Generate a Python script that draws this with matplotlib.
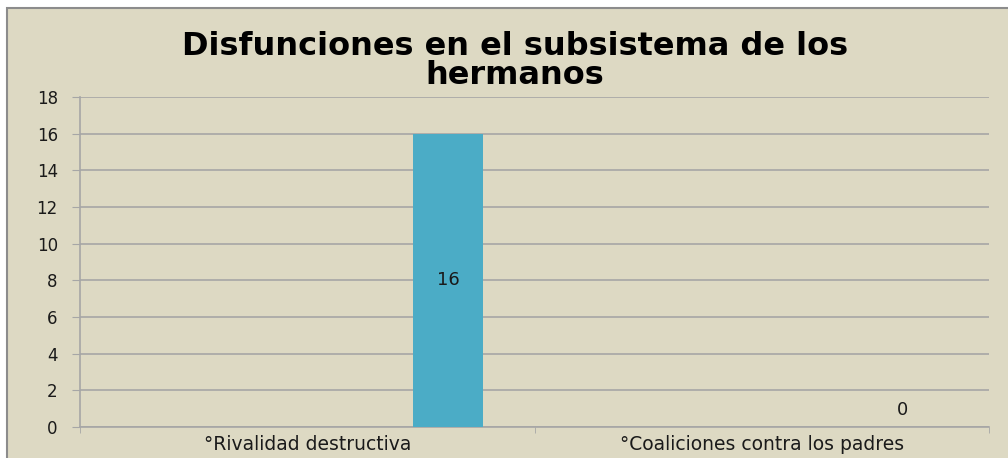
import numpy as np
import matplotlib.pyplot as plt
from matplotlib.patches import Rectangle

# data
categories = ['\u00b0Rivalidad destructiva', '\u00b0Coaliciones contra los padres']
values = [16, 0]
title = 'Disfunciones en el subsistema de los\nhermanos'

bg = '#ddd9c3'
bar_color = '#4bacc6'
grid_color = '#a6a6a6'

W, H = 1008, 458
fig = plt.figure(figsize=(W / 100, H / 100), dpi=100, facecolor='white')

# chart area panel (beige with grey frame on top/left)
back = fig.add_axes([0, 0, 1, 1], zorder=-1)
back.axis('off')
back.set_xlim(0, 1)
back.set_ylim(0, 1)
back.add_patch(Rectangle((7 / W, -0.1), 1.1, 1.1 - 8 / H, facecolor=bg,
                         edgecolor='#8c8c8c', linewidth=1.5))

left, right = 80 / W, 989 / W
bottom, top = 1 - 427 / H, 1 - 97 / H
ax = fig.add_axes([left, bottom, right - left, top - bottom])
ax.set_facecolor(bg)
ax.patch.set_alpha(0)

x = np.arange(len(categories))
offset = 0.31
width = 0.154
bars = ax.bar(x + offset, values, width=width, color=bar_color, zorder=3)

ax.set_xlim(-0.5, len(categories) - 0.5)
ax.set_ylim(0, 18)
ax.set_yticks(np.arange(0, 19, 2))
ax.yaxis.grid(True, color=grid_color, linewidth=1.2)
ax.set_axisbelow(True)

ax.set_xticks(x)
ax.set_xticklabels(categories, fontsize=13.5, color='#1a1a1a')
ax.set_xticks(np.arange(-0.5, len(categories)), minor=True)
ax.tick_params(axis='x', which='major', length=0, pad=6)
ax.tick_params(axis='x', which='minor', length=4, color=grid_color)
ax.tick_params(axis='y', length=6, color=grid_color, labelsize=12,
               labelcolor='#1a1a1a', pad=10)

for s in ['top', 'right']:
    ax.spines[s].set_visible(False)
ax.spines['left'].set_color(grid_color)
ax.spines['bottom'].set_color(grid_color)
ax.spines['left'].set_linewidth(1.2)
ax.spines['bottom'].set_linewidth(1.2)

# data labels
for b, v in zip(bars, values):
    cx = b.get_x() + b.get_width() / 2
    if v > 0:
        ax.text(cx, v / 2, str(v), ha='center', va='center', fontsize=13,
                color='#1a1a1a', zorder=4)
    else:
        ax.text(cx, 0.45, str(v), ha='center', va='bottom', fontsize=13,
                color='#1a1a1a', zorder=4)

fig.text(0.511, 1 - 61 / H, title, ha='center', va='center', fontsize=23,
         fontweight='bold', linespacing=0.95)

fig.savefig('out.png', dpi=100, facecolor='white')
